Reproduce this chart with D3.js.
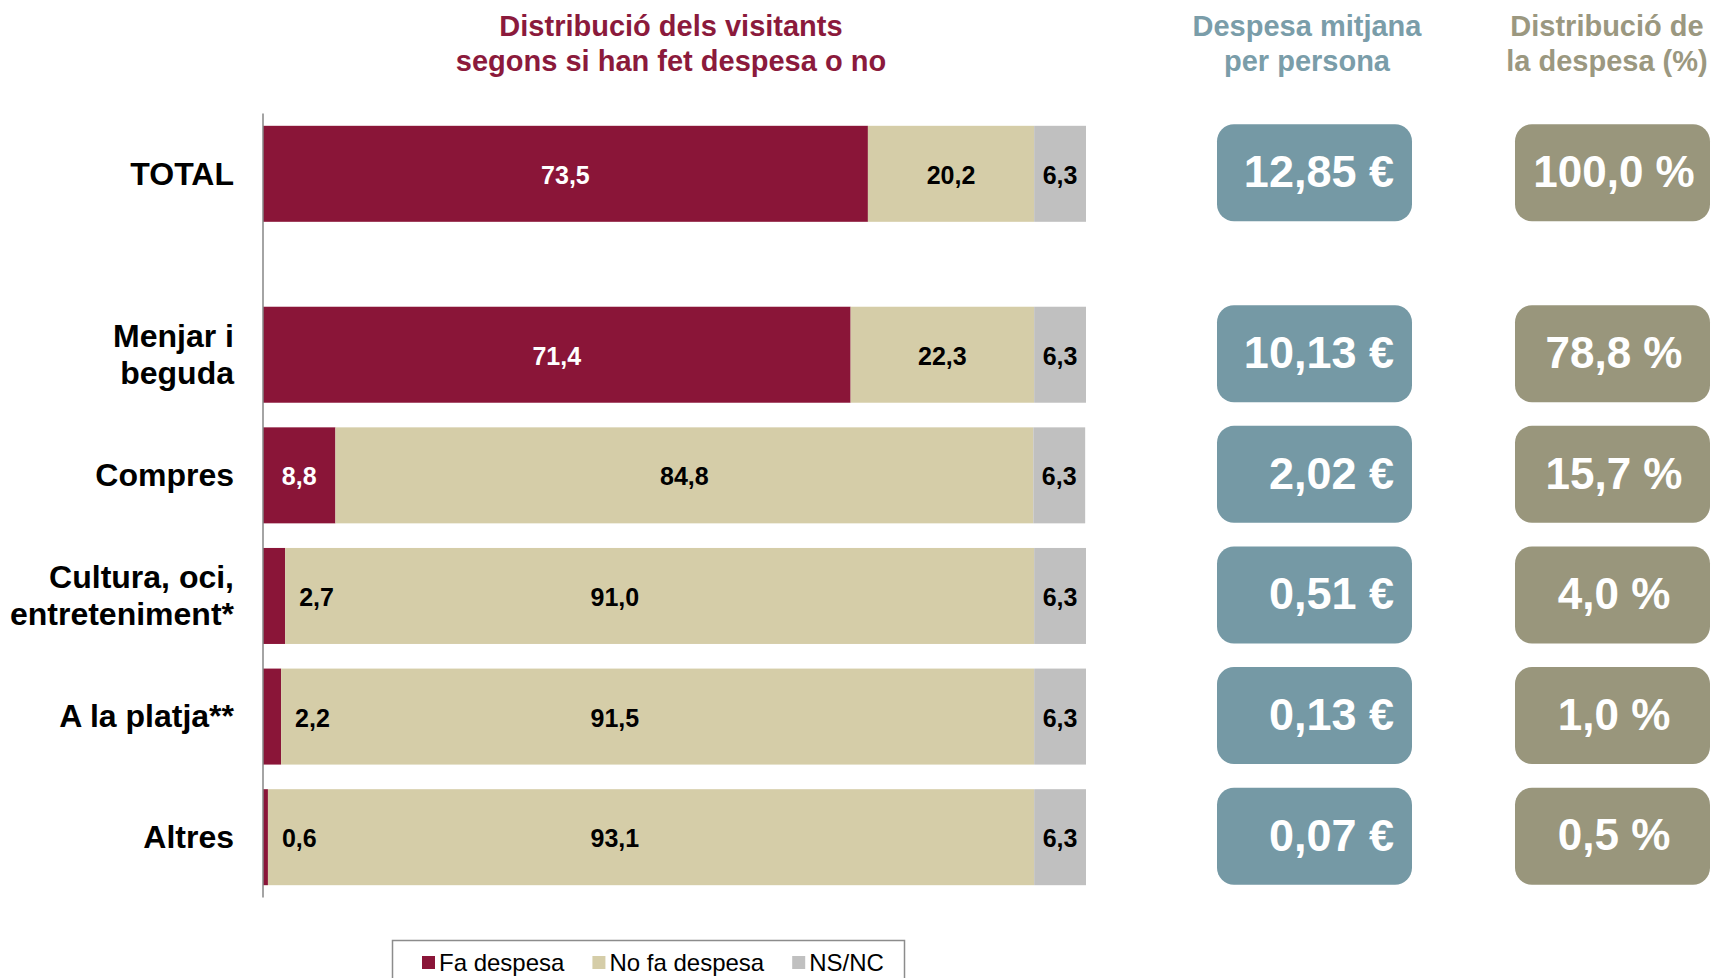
<!DOCTYPE html>
<html>
<head>
<meta charset="utf-8">
<script src="https://cdn.jsdelivr.net/npm/d3@7"></script>
<style>
  body { margin: 0; background: #fff; }
  svg { display: block; font-family: "Liberation Sans", Arial, sans-serif; }
</style>
</head>
<body>
<svg id="chart" width="1712" height="978"></svg>
<script>
// data
const categories = ["TOTAL", "Menjar i beguda", "Compres", "Cultura, oci, entreteniment*", "A la platja**", "Altres"];
const categoryLines = [["TOTAL"], ["Menjar i", "beguda"], ["Compres"], ["Cultura, oci,", "entreteniment*"], ["A la platja**"], ["Altres"]];
const rowSlots = [0, 1.5, 2.5, 3.5, 4.5, 5.5]; // TOTAL is set apart from the rest
const faDespesa = [73.5, 71.4, 8.8, 2.7, 2.2, 0.6];
const noFaDespesa = [20.2, 22.3, 84.8, 91.0, 91.5, 93.1];
const nsnc = [6.3, 6.3, 6.3, 6.3, 6.3, 6.3];
const despesaMitjana = [12.85, 10.13, 2.02, 0.51, 0.13, 0.07];
const distribucioDespesa = [100.0, 78.8, 15.7, 4.0, 1.0, 0.5];
const seriesNames = ["Fa despesa", "No fa despesa", "NS/NC"];
const seriesColors = ["#8a1538", "#d5cda8", "#c0c0c0"];

const locale = d3.formatLocale({ decimal: ",", thousands: ".", grouping: [3], currency: ["", " €"] });
const f1 = locale.format(".1f");
const f2 = locale.format(".2f");

const svg = d3.select("#chart");

const x = d3.scaleLinear().domain([0, 100]).range([263, 1086]);
const y = d3.scaleLinear().domain([-0.5, 6]).range([113.5, 897.5]);
const barH = 96;

const rows = categories.map((c, i) => ({
  name: c,
  lines: categoryLines[i],
  slot: rowSlots[i],
  values: [faDespesa[i], noFaDespesa[i], nsnc[i]],
  mitjana: despesaMitjana[i],
  dist: distribucioDespesa[i]
}));

// titles
const titles = [
  { lines: ["Distribució dels visitants", "segons si han fet despesa o no"], cx: 671, color: "#8b1a3c" },
  { lines: ["Despesa mitjana", "per persona"], cx: 1307, color: "#7a9da9" },
  { lines: ["Distribució de", "la despesa (%)"], cx: 1607, color: "#9b9880" }
];
titles.forEach(t => {
  const txt = svg.append("text")
    .attr("x", t.cx).attr("y", 36)
    .attr("text-anchor", "middle")
    .attr("font-size", 29).attr("font-weight", "bold")
    .attr("fill", t.color);
  t.lines.forEach((l, k) => txt.append("tspan").attr("x", t.cx).attr("dy", k ? 35 : 0).text(l));
});

// stacked bars
const row = svg.append("g").selectAll("g").data(rows).join("g")
  .attr("transform", d => `translate(0,${y(d.slot)})`);

function segments(d) {
  let acc = 0;
  return d.values.map((v, k) => {
    const s = { k, v, x0: acc, x1: acc + v, small: d.values[0] < 5 };
    acc += v;
    return s;
  });
}

row.selectAll("rect.seg")
  .data(segments)
  .join("rect")
  .attr("class", "seg")
  .attr("x", d => x(d.x0))
  .attr("width", d => x(d.x1) - x(d.x0))
  .attr("y", -barH / 2)
  .attr("height", barH)
  .attr("fill", d => seriesColors[d.k]);

// segment labels (small "Fa despesa" values go outside, the next label moves left)
row.selectAll("text.val")
  .data(segments)
  .join("text")
  .attr("class", "val")
  .attr("font-size", 25).attr("font-weight", "bold")
  .attr("dy", "0.4em")
  .attr("x", d => {
    if (d.k === 0 && d.small) return x(d.x1) + 14;
    if (d.k === 1 && d.small) return x(d.x1 / 2 - 4.1);
    return x((d.x0 + d.x1) / 2);
  })
  .attr("text-anchor", d => (d.k === 0 && d.small) ? "start" : "middle")
  .attr("fill", d => (d.k === 0 && !d.small) ? "#fff" : "#000")
  .text(d => f1(d.v));

// category labels
row.append("text")
  .attr("x", 234)
  .attr("text-anchor", "end")
  .attr("font-size", 32).attr("font-weight", "bold")
  .attr("fill", "#000")
  .each(function (d) {
    const n = d.lines.length;
    d.lines.forEach((l, k) => {
      d3.select(this).append("tspan")
        .attr("x", 234)
        .attr("y", (k - (n - 1) / 2) * 37)
        .attr("dy", "0.34em")
        .text(l);
    });
  });

// axis line
svg.append("line")
  .attr("x1", x(0)).attr("x2", x(0))
  .attr("y1", y.range()[0]).attr("y2", y.range()[1])
  .attr("stroke", "#868686").attr("stroke-width", 1.5);

// boxes
const boxH = 97;
row.append("rect")
  .attr("x", 1217).attr("width", 195)
  .attr("y", -boxH / 2 - 1).attr("height", boxH)
  .attr("rx", 17)
  .attr("fill", "#7599a5");
row.append("text")
  .attr("x", 1394).attr("dy", "0.3em")
  .attr("text-anchor", "end")
  .attr("font-size", 45).attr("font-weight", "bold")
  .attr("fill", "#fff")
  .text(d => f2(d.mitjana) + " €");

row.append("rect")
  .attr("x", 1515).attr("width", 195)
  .attr("y", -boxH / 2 - 1).attr("height", boxH)
  .attr("rx", 17)
  .attr("fill", "#99967c");
row.append("text")
  .attr("x", 1614).attr("dy", "0.3em")
  .attr("text-anchor", "middle")
  .attr("font-size", 44).attr("font-weight", "bold")
  .attr("fill", "#fff")
  .text(d => f1(d.dist) + " %");

// legend
const legend = svg.append("g");
legend.append("rect")
  .attr("x", 392.5).attr("y", 940.5)
  .attr("width", 512).attr("height", 60)
  .attr("fill", "#fff")
  .attr("stroke", "#8c8c8c").attr("stroke-width", 1.5);
let lx = 422;
seriesNames.forEach((name, k) => {
  legend.append("rect")
    .attr("x", lx).attr("y", 956)
    .attr("width", 13).attr("height", 13)
    .attr("fill", seriesColors[k]);
  const t = legend.append("text")
    .attr("x", lx + 17).attr("y", 971)
    .attr("font-size", 24)
    .attr("fill", "#000")
    .text(name);
  lx += 17 + t.node().getComputedTextLength() + 28;
});
</script>
</body>
</html>
